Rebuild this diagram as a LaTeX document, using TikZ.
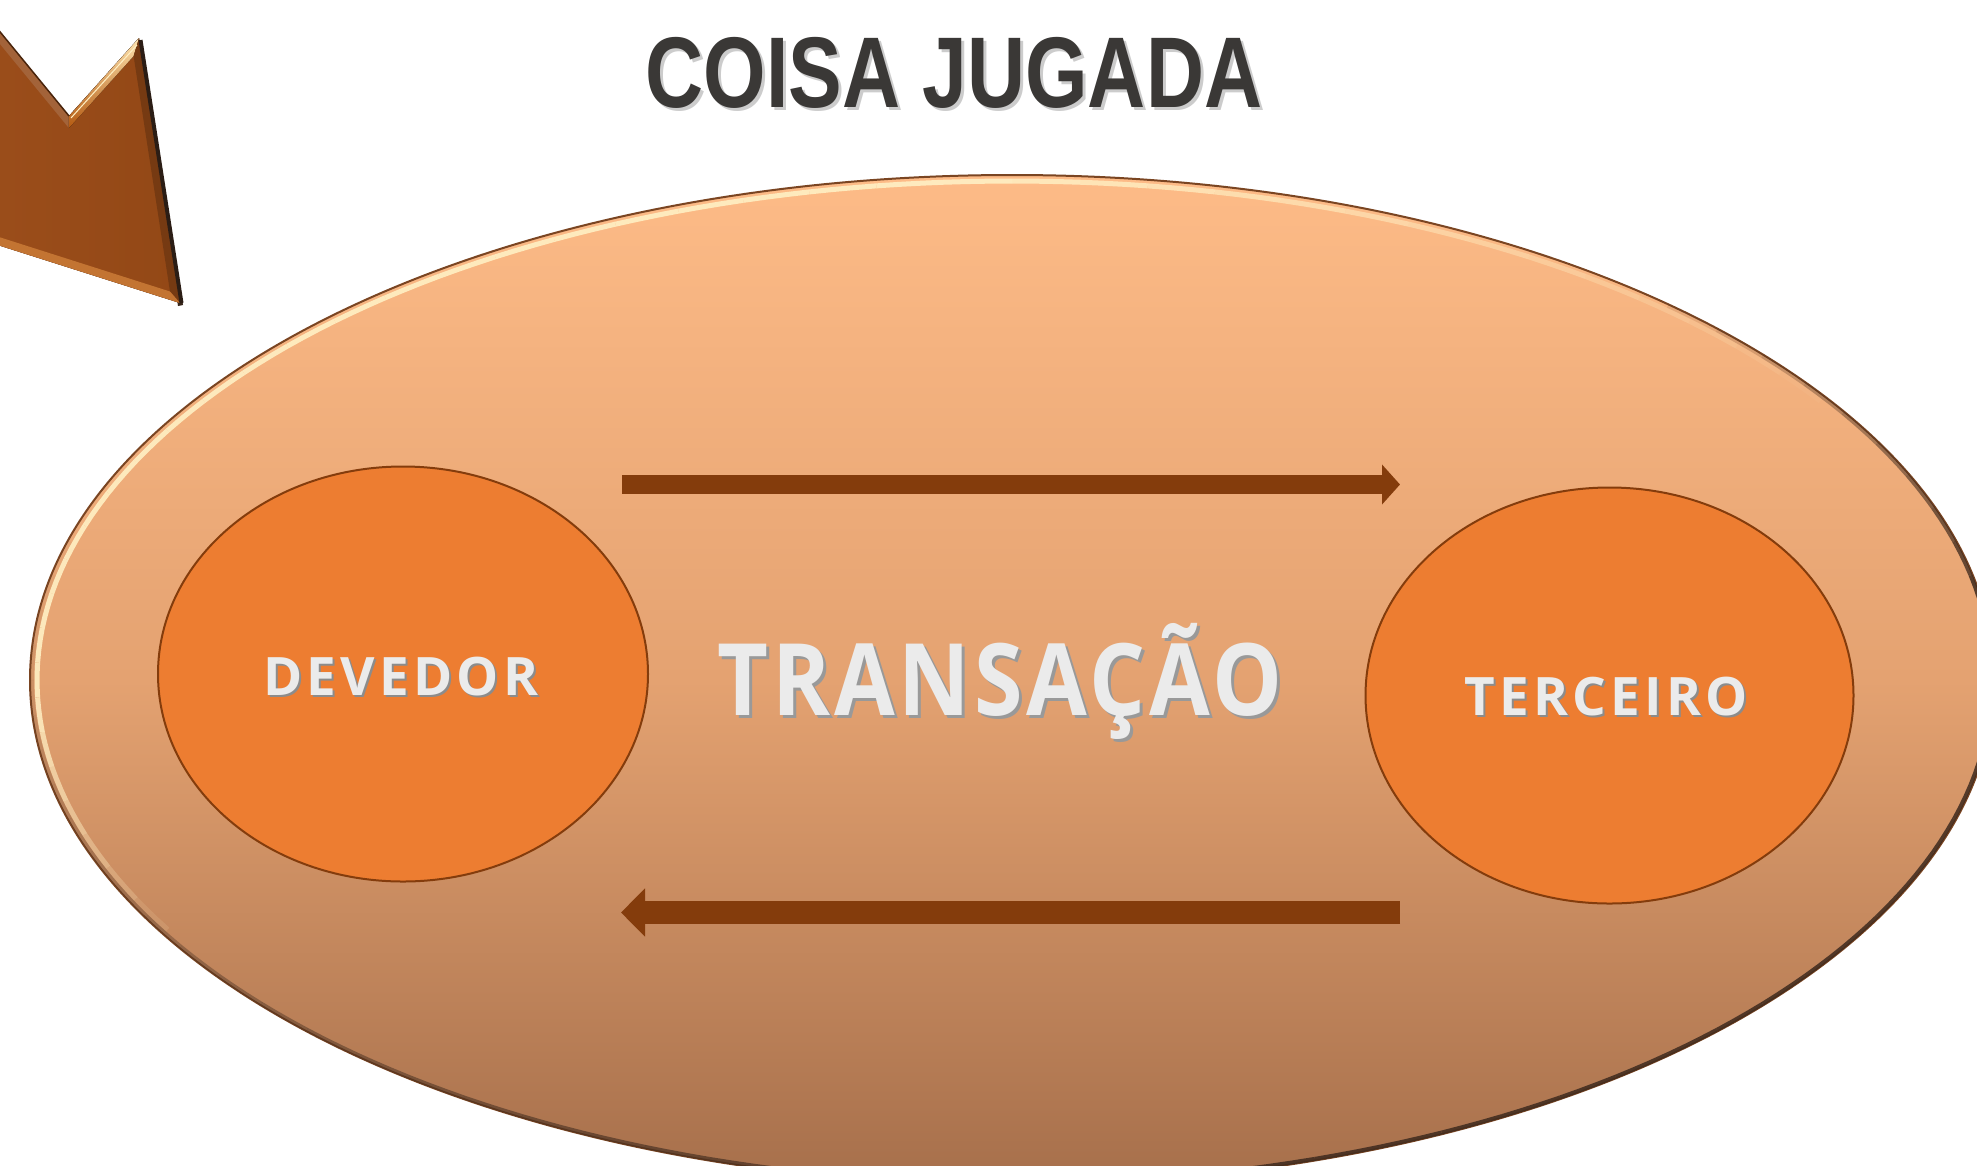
\documentclass[tikz,border=0pt]{standalone}
\usepackage{fontspec}
\usetikzlibrary{arrows.meta,shapes.geometric}
\newfontfamily\titlefont{Liberation Sans}[FakeStretch=0.8]
\newfontfamily\lblfont{Open Sans}[LetterSpace=8]
\newfontfamily\bigfont{Open Sans}[FakeStretch=0.88,LetterSpace=4]
\definecolor{peachtop}{HTML}{FDBB87}
\definecolor{peachmid}{HTML}{E4A271}
\definecolor{peachbot}{HTML}{A66F4B}
\definecolor{orangeF}{HTML}{ED7D31}
\definecolor{rimB}{HTML}{843C0C}
\definecolor{arrowB}{HTML}{843C0C}
\definecolor{titleC}{HTML}{3A3836}
\definecolor{txtC}{HTML}{EBEBEB}
\definecolor{bigA}{HTML}{934816}
\definecolor{bigAl}{HTML}{9C4E1B}
\definecolor{cream}{HTML}{FFF0C4}
\definecolor{fieldrim}{HTML}{7A4522}
\definecolor{darkrim}{HTML}{3E2A1E}
\newcommand\shtext[3]{\rlap{\kern#2\raisebox{-#2}{\color{black!#3}#1}}#1}
\tikzset{
  party/.style={ellipse, draw=rimB, line width=2pt, fill=orangeF, inner sep=0pt},
  lbl/.style={text=txtC, inner sep=0pt, anchor=base},
  flow/.style={draw=arrowB, line width=#1}
}
\begin{document}
\begin{tikzpicture}[x=1pt,y=-1pt]
\useasboundingbox (0,0) rectangle (1977,1165);
\clip (0,0) rectangle (1977,1165);
\fill[white] (0,0) rectangle (1977,1165);

% top-left block arrow (bevelled)
\fill[darkrim!90!black] (141,40) -- (183,305) -- (178,306) -- (137,42) -- cycle;
\fill[left color=bigAl, right color=bigA] (-40,-17) -- (69,116) -- (139,38) -- (180,303) -- (-40,233) -- cycle;
% bevel strips
\fill[bigA!85!white] (-40,-17) -- (69,116) -- (68.9,128.1) -- (-40,-4.7) -- cycle;
\fill[top color=cream!90!orange, bottom color=bigA!70!orange] (69,116) -- (139,38) -- (133.6,56) -- (68.9,128.1) -- cycle;
\fill[bigA!80!black] (139,38) -- (180,303) -- (170,291.5) -- (133.6,56) -- cycle;
\fill[bigA!65!orange!85!white] (180,303) -- (-40,233) -- (-40,224.6) -- (170,291.5) -- cycle;
\draw[line width=1.5pt, bigA!50!black] (-40,-17) -- (69,116);
\draw[line width=1pt, cream] (71,118) -- (137,45);
\draw[line width=4pt, darkrim!70!black] (140.5,40) -- (181.5,303);

% title
\node[inner sep=0pt, anchor=base, text=titleC] (title) at (954,107)
  {\titlefont\bfseries\fontsize{100.5}{110}\selectfont\shtext{COISA JUGADA}{3pt}{20}};

% big field ellipse
\node[ellipse, minimum width=1964pt, minimum height=1010pt, inner sep=0pt,
  top color=peachtop, bottom color=peachbot, middle color=peachmid,
  draw=fieldrim, line width=2pt] (field) at (1012,680) {};
% highlight (upper-left rim), fading at both ends
\foreach \a in {30,34,...,206}{
  \pgfmathsetmacro\op{0.9*max(0,min(1,min((\a-30)/60,(210-\a)/30)))}
  \pgfmathsetmacro\b{\a+4}
  \draw[cream, line width=5pt, opacity=\op]
    plot[domain=\a:\b, samples=4] ({1012+975*cos(\x)},{680-499*sin(\x)});
}
% dark shadow rim (lower-right), fading at both ends
\foreach \a in {-200,-196,...,44}{
  \pgfmathsetmacro\op{0.85*max(0,min(1,min((\a+200)/120,(48-\a)/40)))}
  \pgfmathsetmacro\b{\a+4}
  \draw[darkrim, line width=4pt, opacity=\op]
    plot[domain=\a:\b, samples=4] ({1012+980*cos(\x)},{680-503.5*sin(\x)});
}

% parties
\node[party, minimum width=490pt, minimum height=415pt] (dev) at (403,674) {};
\node[party, minimum width=488pt, minimum height=416pt] (ter) at (1609.5,695.5) {};

\node[lbl] (devtxt) at (401,695)
  {\lblfont\bfseries\fontsize{53}{60}\selectfont\shtext{DEVEDOR}{2pt}{45}};
\node[lbl] (tertxt) at (1606,715)
  {\lblfont\bfseries\fontsize{53}{60}\selectfont\shtext{TERCEIRO}{2pt}{45}};
\node[lbl] (trans) at (1000,715)
  {\bigfont\bfseries\fontsize{100}{110}\selectfont\shtext{TRANSAÇÃO}{3pt}{40}};

% flows
\coordinate (f1s) at (622,484.5);
\coordinate (f1e) at (1400,484.5);
\coordinate (f2s) at (1400,912.5);
\coordinate (f2e) at (621,912.5);
\draw[flow=19pt, -{Triangle[width=39pt,length=18pt]}] (f1s) -- (f1e);
\draw[flow=23pt, -{Triangle[width=47pt,length=24pt]}] (f2s) -- (f2e);
\end{tikzpicture}
\end{document}
